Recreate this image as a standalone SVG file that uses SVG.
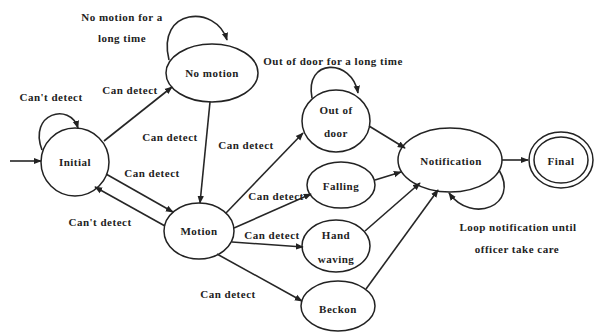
<svg xmlns="http://www.w3.org/2000/svg" width="598" height="332" viewBox="0 0 598 332">
<style>
text{font-family:"Liberation Serif","Times New Roman",serif;font-weight:bold;font-size:11px;letter-spacing:0.5px;fill:#222;text-anchor:middle;dominant-baseline:central}
.node{fill:#fff;stroke:#222;stroke-width:1.5}
.edge{fill:none;stroke:#262626;stroke-width:1.6;marker-end:url(#ah)}
</style>
<defs>
<marker id="ah" viewBox="0 0 10 10" refX="9" refY="5" markerWidth="8" markerHeight="8" markerUnits="userSpaceOnUse" orient="auto">
<path d="M0,1 L10,5 L0,9 z" fill="#222"/>
</marker>
</defs>
<rect width="598" height="332" fill="#fff"/>
<g id="initial"><ellipse class="node" cx="75" cy="162" rx="34" ry="34"/><text x="75" y="162">Initial</text></g>
<g id="no-motion"><ellipse class="node" cx="212" cy="73" rx="46" ry="29"/><text x="212" y="73">No motion</text></g>
<g id="motion"><ellipse class="node" cx="199" cy="231" rx="35" ry="28"/><text x="199" y="231">Motion</text></g>
<g id="out-of-door"><ellipse class="node" cx="336" cy="121" rx="34" ry="31"/><text x="336" y="110">Out of</text><text x="336" y="133">door</text></g>
<g id="falling"><ellipse class="node" cx="341" cy="185" rx="34" ry="23"/><text x="341" y="186">Falling</text></g>
<g id="hand-waving"><ellipse class="node" cx="336" cy="246" rx="34" ry="26"/><text x="336" y="235">Hand</text><text x="336" y="259">waving</text></g>
<g id="beckon"><ellipse class="node" cx="338" cy="306" rx="37" ry="25"/><text x="338" y="309">Beckon</text></g>
<g id="notification"><ellipse class="node" cx="450" cy="160" rx="52" ry="32"/><text x="451" y="161">Notification</text></g>
<g id="final"><ellipse class="node" cx="561" cy="160" rx="32" ry="28"/><ellipse class="node" cx="561" cy="160" rx="27" ry="23"/><text x="561" y="161">Final</text></g>
<g id="connectors">
<path class="edge" d="M10,161 L41,161" stroke-width="2.2"/>
<path class="edge" d="M42,150 C28,113 70,102 78,128"/>
<path class="edge" d="M104,141 L172,87"/>
<path class="edge" d="M169,60 C156,8 216,4 227,40"/>
<path class="edge" d="M210,102 L200,203"/>
<path class="edge" d="M106,174 L173,212"/>
<path class="edge" d="M165,226 L95,187"/>
<path class="edge" d="M226,213 L303,133"/>
<path class="edge" d="M234,228 L311,194"/>
<path class="edge" d="M232,242 L303,247" stroke-width="2.4"/>
<path class="edge" d="M217,254 L302,301"/>
<path class="edge" d="M312,98 C304,58 352,58 358,93"/>
<path class="edge" d="M369,126 L405,148"/>
<path class="edge" d="M375,180 L401,172"/>
<path class="edge" d="M365,231 L420,183"/>
<path class="edge" d="M366,289 L438,190"/>
<path class="edge" d="M499,170 C520,205 472,225 449,193"/>
<path class="edge" d="M502,160 L528,160"/>
</g>
<g id="labels">
<text x="122" y="17">No motion for a</text>
<text x="122" y="38">long time</text>
<text x="51" y="97">Can't detect</text>
<text x="130" y="90">Can detect</text>
<text x="170" y="137">Can detect</text>
<text x="246" y="145">Can detect</text>
<text x="152" y="173">Can detect</text>
<text x="100" y="222">Can't detect</text>
<text x="276" y="196">Can detect</text>
<text x="272" y="235">Can detect</text>
<text x="228" y="294">Can detect</text>
<text x="333" y="61">Out of door for a long time</text>
<text x="518" y="227">Loop notification until</text>
<text x="517" y="249">officer take care</text>
</g>
</svg>
